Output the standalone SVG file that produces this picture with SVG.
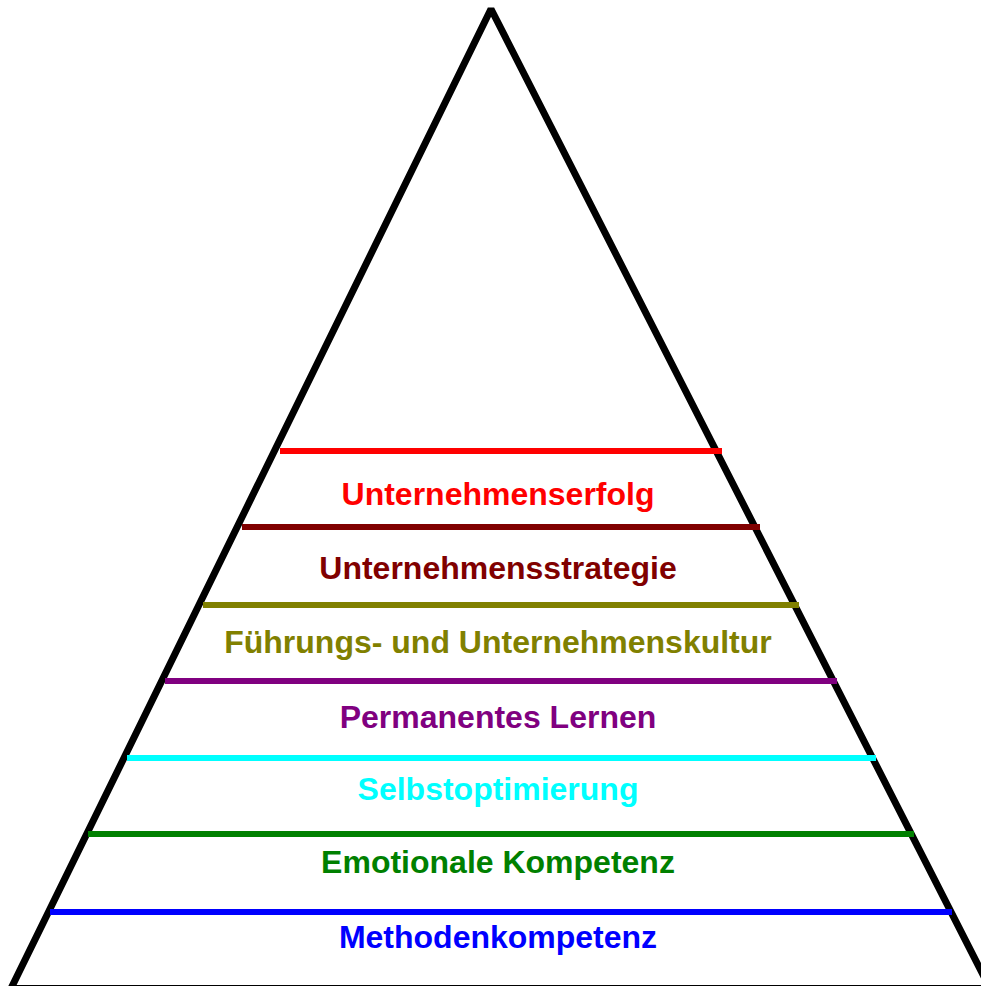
<svg xmlns="http://www.w3.org/2000/svg" width="981" height="986" viewBox="0 0 981 986">
  <style>
    .tri { fill: none; stroke: #000000; stroke-width: 7; stroke-linejoin: bevel; }
    .lvl { stroke-width: 6; stroke-linecap: butt; }
    .lbl { font-family: "Liberation Sans", Arial, sans-serif; font-weight: bold; font-size: 32px; text-anchor: middle; }
  </style>
  <rect width="981" height="986" fill="#ffffff"/>
  <g id="pyramid">
    <polygon class="tri" points="11,988.5 491,9 990,988.5"/>
  </g>
  <g id="connectors">
    <line class="lvl" x1="280" y1="451" x2="722" y2="451" stroke="#ff0000"/>
    <line class="lvl" x1="242" y1="527" x2="760" y2="527" stroke="#800000"/>
    <line class="lvl" x1="203" y1="605" x2="799" y2="605" stroke="#808000"/>
    <line class="lvl" x1="165" y1="681" x2="837" y2="681" stroke="#800080"/>
    <line class="lvl" x1="127" y1="758" x2="876" y2="758" stroke="#00ffff"/>
    <line class="lvl" x1="88" y1="834" x2="914" y2="834" stroke="#008000"/>
    <line class="lvl" x1="50" y1="912" x2="952" y2="912" stroke="#0000ff"/>
  </g>
  <g id="level1"><text class="lbl" x="498" y="505" fill="#ff0000">Unternehmenserfolg</text></g>
  <g id="level2"><text class="lbl" x="498" y="579" fill="#800000">Unternehmensstrategie</text></g>
  <g id="level3"><text class="lbl" x="498" y="653" fill="#808000">Führungs- und Unternehmenskultur</text></g>
  <g id="level4"><text class="lbl" x="498" y="728" fill="#800080">Permanentes Lernen</text></g>
  <g id="level5"><text class="lbl" x="498" y="800" fill="#00ffff">Selbstoptimierung</text></g>
  <g id="level6"><text class="lbl" x="498" y="873" fill="#008000">Emotionale Kompetenz</text></g>
  <g id="level7"><text class="lbl" x="498" y="948" fill="#0000ff">Methodenkompetenz</text></g>
</svg>
